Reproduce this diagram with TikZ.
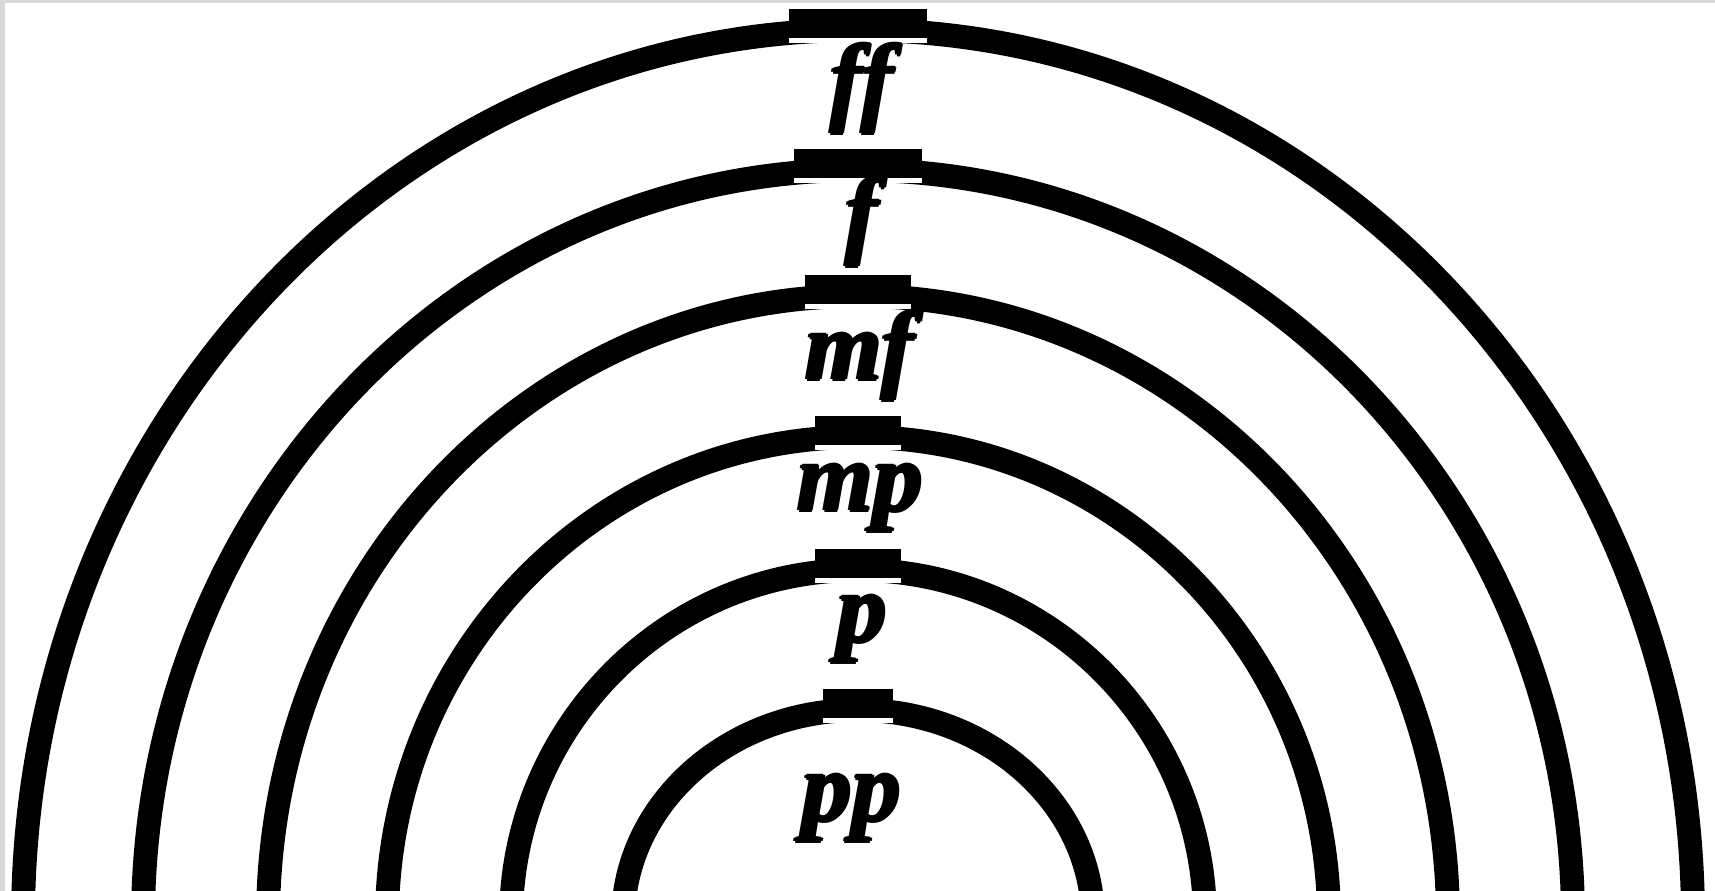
\documentclass[tikz,border=0pt]{standalone}
\usepackage{fontspec}
\setmainfont{Liberation Serif}
\newfontfamily\dynfont{Liberation Serif Bold Italic}
% heavier strokes for the dynamics
\newcommand\dynbold[1]{\rlap{\kern1.1pt#1}\rlap{\kern0.55pt\raise0.35pt\hbox{#1}}\rlap{\kern0.55pt\lower0.35pt\hbox{#1}}#1}
\begin{document}
\begin{tikzpicture}[x=0.01cm, y=0.01cm, line join=round,
	dyn/.style={font=\fontsize{28}{30}\selectfont\dynfont, inner sep=0pt, anchor=base}]
	\def\cx{858}
	\def\cy{-29}
	\def\lw{6.8pt}
	
	\useasboundingbox (0,0) rectangle (1715,891);
	% grey edge of the page
	\fill[gray!30] (0,0) rectangle (5,891);
	\fill[gray!30] (0,888) rectangle (1715,891);
	
	\coordinate (O) at (\cx,\cy);
	\begin{scope}
		\clip (5,0) rectangle (1715,888);
		\foreach \a/\b/\t in {835/890/69, 715/750/64, 590/624/53, 471/483/43, 347/350/43, 235/210/35} {
			\draw[line width=\lw] (\cx+\a,\cy) arc[start angle=0, end angle=180, x radius=\a, y radius=\b];
			% raised piece at the top
			\fill[white] (\cx-\t,\cy+\b-13) rectangle (\cx+\t,\cy+\b-8);
			\fill (\cx-\t,\cy+\b-8) rectangle (\cx+\t,\cy+\b+21);
		}
	\end{scope}
	
	\node[dyn] (ff) at (\cx+2,778) {\dynbold{ff}};
	\node[dyn] (f) at (\cx+2,645) {\dynbold{f}};
	\node[dyn] (mf) at (\cx,511) {\dynbold{mf}};
	\node[dyn] (mp) at (\cx,380) {\dynbold{mp}};
	\node[dyn] (p) at (\cx+2,249) {\dynbold{p}};
	\node[dyn] (pp) at (\cx-8,70) {\dynbold{pp}};
\end{tikzpicture}
\end{document}
